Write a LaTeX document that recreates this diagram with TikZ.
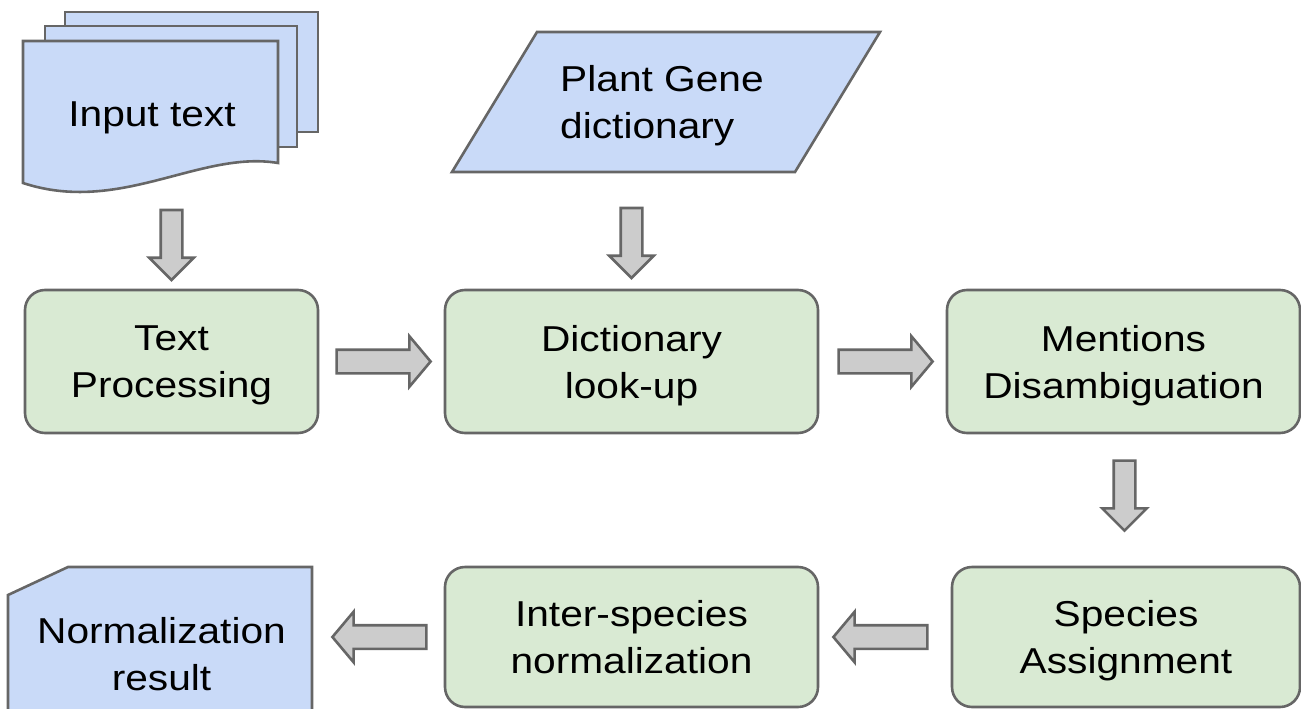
\documentclass[tikz,border=0pt]{standalone}
\usepackage{fontspec}
\setmainfont{Liberation Sans}[FakeStretch=1.13]
\usetikzlibrary{shapes.arrows,calc}
\definecolor{bluefill}{HTML}{C9DAF8}
\definecolor{greenfill}{HTML}{D9EAD3}
\definecolor{edge}{HTML}{666666}
\definecolor{arrowfill}{HTML}{CCCCCC}
\tikzset{
  txt/.style={font=\fontsize{36}{47}\selectfont, align=center, text depth=0pt, inner sep=0pt},
  stepbox/.style={txt, draw=edge, fill=greenfill, line width=2.6pt, rounded corners=20pt},
  bluebox/.style={draw=edge, fill=bluefill, line width=2.6pt, line join=miter},
  harr/.style={single arrow, draw=edge, fill=arrowfill, line width=2.6pt, inner xsep=0pt, inner ysep=10.5pt,
     single arrow head extend=13.5pt, single arrow tip angle=100, minimum height=94pt, minimum width=0pt, anchor=tail},
  varr/.style={single arrow, draw=edge, fill=arrowfill, line width=2.6pt, inner xsep=0pt, inner ysep=9.5pt,
     single arrow head extend=11.5pt, single arrow tip angle=90, minimum height=70pt, minimum width=0pt, rotate=-90, anchor=tail},
}
\begin{document}
\begin{tikzpicture}[x=1pt,y=-1pt]
\useasboundingbox (0,0) rectangle (1301,709);
\clip (0,0) rectangle (1301,709);
% input text (multiple documents)
\draw[bluebox] (65,12) rectangle (318,132);
\draw[bluebox] (45,26) rectangle (297,147);
\draw[bluebox] (23,41) -- (278,41) -- (278,163) .. controls (200,150) and (120,215) .. (23,183) -- cycle;
\node[txt] (inp) at (152,114) {Input text};
% plant gene dictionary
\draw[bluebox] (537,32) -- (880,32) -- (795,172) -- (452,172) -- cycle;
\node[txt, align=left] (pgd) at (662,102) {Plant Gene\\dictionary};
% normalization result
\draw[bluebox] (8,595) -- (68,567) -- (312,567) -- (312,730) -- (8,730) -- cycle;
\coordinate (nrE) at (312,637);
\node[txt] (nr) at (161.5,653.5) {Normalization\\result};
% process steps
\node[stepbox, minimum width=293pt, minimum height=143pt] (tp) at (171.5,361.5) {Text\\Processing};
\node[stepbox, minimum width=373pt, minimum height=143pt] (dl) at (631.5,361.5) {Dictionary\\look-up};
\node[stepbox, minimum width=353pt, minimum height=143pt] (md) at (1123.5,361.5) {Mentions\\Disambiguation};
\node[stepbox, minimum width=348pt, minimum height=140pt] (sa) at (1126,637) {Species\\Assignment};
\node[stepbox, minimum width=373pt, minimum height=140pt] (isn) at (631.5,637) {Inter-species\\normalization};
% block arrows
\node[varr] (a3) at ($(tp.north)+(0,-80)$) {};
\node[varr] (a4) at ($(dl.north)+(0,-82)$) {};
\node[harr] (a1) at ($(tp.east)+(16,0)$) {};
\node[harr] (a2) at ($(dl.east)+(18,0)$) {};
\node[varr] (a5) at ($(md.south)+(1,25)$) {};
\node[harr, rotate=180] (a6) at ($(sa.west)+(-22,0)$) {};
\node[harr, rotate=180] (a7) at ($(isn.west)+(-16,0)$) {};
\end{tikzpicture}
\end{document}
